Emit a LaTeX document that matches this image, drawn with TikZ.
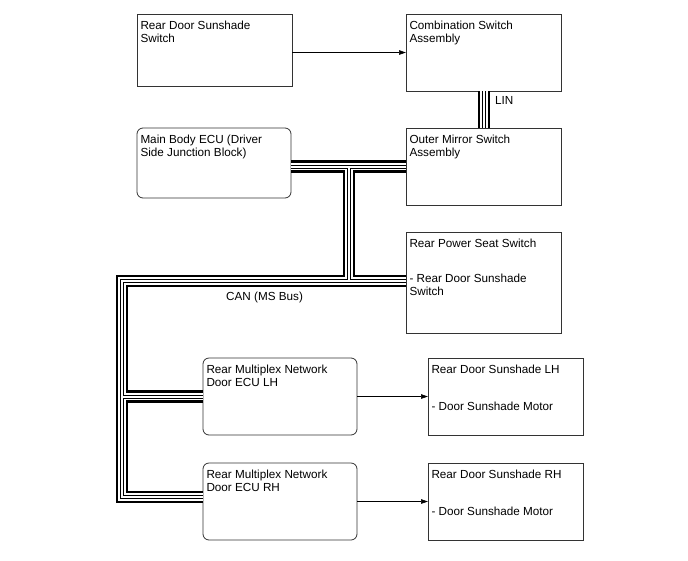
\documentclass[tikz,border=0pt]{standalone}
\usepackage{fontspec}
\setmainfont{Liberation Sans}
\usetikzlibrary{arrows.meta,calc,positioning}

\newcommand{\boxtxt}[3]{\parbox[t][\dimexpr#2pt-14pt\relax][t]{\dimexpr#1pt-7pt\relax}{\raggedright #3}}

\begin{document}
\begin{tikzpicture}[x=1pt,y=-1pt,font=\fontsize{11.7}{12.7}\selectfont,
  blk/.style={draw=black!80,line width=.8pt,fill=white,anchor=north west,
    inner xsep=3.5pt,inner ysep=7pt,outer sep=0pt},
  ecubox/.style={blk,rounded corners=6pt},
  sig/.style={-{Triangle[length=7pt,width=4.5pt]},line width=.7pt}]
\useasboundingbox (0,0) rectangle (688,560);
% switches and ECUs
\node[blk] (sunsw) at (137,14) {\boxtxt{155}{72}{Rear Door Sunshade\\Switch}};
\node[blk] (combsw) at (406,14) {\boxtxt{155}{77}{Combination Switch\\Assembly}};
\node[ecubox] (mainecu) at (137,128)
  {\boxtxt{154}{70}{Main Body ECU (Driver\\Side Junction Block)}};
\node[blk] (mirrorsw) at (406,128) {\boxtxt{155}{77}{Outer Mirror Switch\\Assembly}};
\node[blk] (seatsw) at (406,232)
  {\boxtxt{155}{101}{Rear Power Seat Switch\\[22.5pt]- Rear Door Sunshade\\Switch}};
\node[ecubox] (ecuLH) at (203,358)
  {\boxtxt{154}{77}{Rear Multiplex Network\\Door ECU LH}};
\node[blk] (shadeLH) at (428,358)
  {\boxtxt{155}{77}{Rear Door Sunshade LH\\[24.5pt]- Door Sunshade Motor}};
\node[ecubox] (ecuRH) at (203,463)
  {\boxtxt{154}{77}{Rear Multiplex Network\\Door ECU RH}};
\node[blk] (shadeRH) at (428,463)
  {\boxtxt{155}{77}{Rear Door Sunshade RH\\[24.5pt]- Door Sunshade Motor}};
% bus lines
\coordinate (tee) at (349,166.5);
\coordinate (canTop) at (122,281);
\coordinate (canBot) at (122,497);
\coordinate (linx) at (484,0);
\foreach \w/\col in {12.5/black,7.5/white,4/black,2/white}{
  \draw[line width=\w pt,\col] (mainecu.east |- mirrorsw.west) -- (mirrorsw.west)
    (tee) -- (tee |- canTop)
    (seatsw.west |- canTop) -- (canTop) -- (canBot) -- (ecuRH.west |- canBot)
    (canTop |- ecuLH.west) -- (ecuLH.west)
    (combsw.south -| linx) -- (mirrorsw.north -| linx);
}
\node[anchor=west,inner sep=0pt] (linlbl) at (495,100) {LIN};
\node[anchor=west,inner sep=0pt] (canlbl) at (226,297) {CAN (MS Bus)};
% signal arrows
\draw[sig] (sunsw.east |- combsw.west) -- (combsw.west);
\draw[sig] (ecuLH.east) -- (shadeLH.west);
\draw[sig] (ecuRH.east) -- (shadeRH.west);
\end{tikzpicture}
\end{document}
